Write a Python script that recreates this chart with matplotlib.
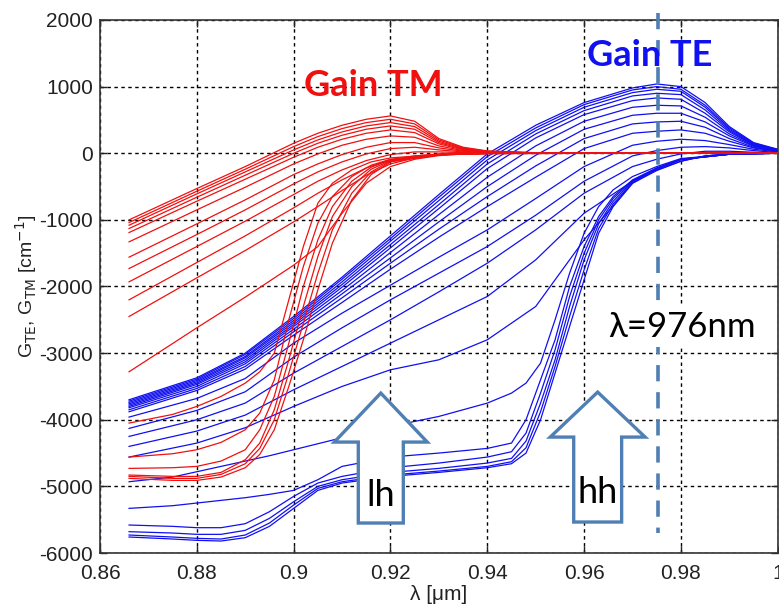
import matplotlib
matplotlib.use("Agg")
import matplotlib.pyplot as plt
from matplotlib.patches import Polygon

plt.rcParams['font.family'] = ['Liberation Sans', 'DejaVu Sans']

# ---- TE gain, high carrier densities (no step) ----
xa = [0.866, 0.88, 0.89, 0.90, 0.91, 0.92, 0.93, 0.94, 0.95, 0.96, 0.97, 0.975, 0.98, 0.985, 0.99, 0.995, 1.0]
te_high = [
    [-3700, -3370, -3000, -2450, -1860, -1240, -620, -10, 420, 760, 980, 1040, 1000, 760, 400, 160, 60],
    [-3720, -3390, -3020, -2480, -1890, -1280, -660, -50, 380, 730, 950, 1000, 960, 720, 380, 150, 55],
    [-3740, -3410, -3050, -2510, -1930, -1320, -710, -100, 340, 690, 910, 960, 930, 690, 360, 140, 50],
    [-3760, -3430, -3070, -2540, -1970, -1370, -770, -160, 290, 640, 860, 900, 880, 650, 340, 130, 50],
    [-3780, -3450, -3100, -2570, -2010, -1420, -830, -230, 230, 580, 790, 830, 810, 600, 320, 125, 45],
    [-3800, -3470, -3130, -2600, -2060, -1490, -920, -360, 110, 480, 690, 720, 710, 540, 290, 115, 40],
    [-3820, -3500, -3160, -2640, -2110, -1570, -1030, -500, -30, 360, 570, 600, 600, 470, 260, 105, 35],
    [-3850, -3530, -3200, -2680, -2170, -1650, -1140, -650, -190, 220, 440, 470, 480, 390, 220, 90, 30],
    [-3880, -3560, -3240, -2730, -2240, -1740, -1260, -800, -360, 70, 300, 330, 350, 300, 180, 80, 25],
    [-3960, -3680, -3380, -2850, -2400, -1980, -1560, -1150, -680, -200, 120, 180, 210, 190, 130, 60, 20],
    [-4130, -3860, -3580, -3060, -2620, -2200, -1800, -1400, -930, -420, -40, 40, 90, 100, 80, 40, 10],
    [-4250, -4000, -3750, -3300, -2900, -2500, -2080, -1650, -1150, -600, -200, -90, -10, 30, 30, 15, 5],
    [-4400, -4170, -3930, -3550, -3200, -2850, -2500, -2150, -1600, -900, -420, -250, -120, -40, -10, 0, 0],
    [-4560, -4350, -4120, -3800, -3500, -3250, -3100, -2800, -2300, -1300, -450, -260, -120, -40, -10, 0, 0],
]

# ---- TE gain, low carrier densities (lh and hh steps) ----
xb = [0.866, 0.875, 0.88, 0.885, 0.89, 0.895, 0.90, 0.905, 0.91, 0.92, 0.93, 0.94, 0.945,
      0.948, 0.951, 0.954, 0.957, 0.96, 0.963, 0.966, 0.97, 0.975, 0.98, 0.99, 1.0]
te_low = [
    [-4930, -4860, -4780, -4700, -4620, -4540, -4450, -4360, -4270, -4100, -3950, -3750, -3600,
     -3450, -3150, -2500, -1800, -1200, -800, -550, -350, -200, -80, -15, 0],
    [-5330, -5290, -5250, -5210, -5170, -5120, -5060, -4900, -4700, -4560, -4500, -4430, -4350,
     -4000, -3400, -2800, -2000, -1400, -950, -650, -400, -220, -90, -15, 0],
    [-5580, -5600, -5620, -5620, -5560, -5380, -5150, -4950, -4850, -4720, -4650, -4560, -4480,
     -4200, -3600, -2950, -2150, -1500, -1000, -680, -410, -225, -90, -15, 0],
    [-5680, -5700, -5720, -5720, -5660, -5480, -5230, -5000, -4900, -4790, -4730, -4650, -4580,
     -4320, -3750, -3100, -2300, -1600, -1060, -720, -425, -230, -92, -15, 0],
    [-5730, -5760, -5780, -5790, -5730, -5550, -5280, -5030, -4930, -4830, -4770, -4700, -4630,
     -4420, -3880, -3200, -2450, -1750, -1130, -760, -440, -235, -95, -15, 0],
    [-5760, -5790, -5810, -5820, -5770, -5600, -5330, -5060, -4950, -4850, -4790, -4720, -4660,
     -4500, -4000, -3300, -2600, -1900, -1200, -800, -450, -240, -95, -15, 0],
]

# ---- TM gain, high carrier densities ----
xm = [0.866, 0.88, 0.89, 0.90, 0.905, 0.91, 0.915, 0.92, 0.925, 0.93, 0.935, 0.94, 0.95, 0.96, 1.0]
tm_high = [
    [-1000, -530, -200, 150, 300, 420, 510, 560, 480, 220, 90, 35, 8, 2, 0],
    [-1040, -570, -240, 100, 250, 370, 460, 510, 440, 200, 80, 30, 6, 2, 0],
    [-1080, -610, -280, 50, 200, 320, 410, 460, 400, 180, 70, 25, 5, 1, 0],
    [-1130, -660, -330, 0, 150, 270, 360, 410, 360, 160, 60, 20, 5, 1, 0],
    [-1190, -720, -390, -60, 90, 210, 300, 350, 310, 140, 50, 18, 4, 1, 0],
    [-1330, -850, -510, -160, -10, 120, 210, 260, 240, 110, 40, 15, 3, 1, 0],
    [-1560, -1060, -700, -320, -160, -20, 90, 160, 160, 80, 30, 10, 2, 0, 0],
    [-1730, -1220, -850, -460, -280, -130, -10, 70, 90, 50, 20, 8, 2, 0, 0],
    [-1930, -1400, -1020, -620, -420, -250, -110, -20, 20, 20, 10, 5, 1, 0, 0],
    [-2200, -1640, -1240, -820, -600, -400, -220, -100, -40, -10, 0, 2, 1, 0, 0],
    [-2450, -1870, -1460, -1030, -800, -560, -330, -160, -70, -25, -8, -2, 0, 0, 0],
    [-3280, -2620, -2160, -1680, -1400, -900, -450, -200, -90, -35, -12, -4, 0, 0, 0],
]

# ---- TM gain, low carrier densities (step near 0.9 um) ----
xs = [0.866, 0.875, 0.88, 0.885, 0.89, 0.893, 0.896, 0.899, 0.902, 0.905, 0.908, 0.912,
      0.916, 0.92, 0.93, 0.94, 1.0]
tm_low = [
    [-4050, -3920, -3800, -3650, -3450, -3280, -3000, -2200, -1400, -750, -450, -250, -130, -70, -15, -3, 0],
    [-4560, -4510, -4450, -4340, -4150, -3900, -3400, -2500, -1700, -1050, -650, -350, -180, -90, -18, -3, 0],
    [-4730, -4720, -4700, -4620, -4450, -4150, -3650, -2850, -2000, -1300, -800, -420, -210, -100, -20, -3, 0],
    [-4830, -4850, -4850, -4790, -4600, -4350, -3850, -3100, -2300, -1550, -950, -500, -240, -110, -20, -3, 0],
    [-4850, -4880, -4880, -4820, -4660, -4430, -4000, -3300, -2550, -1800, -1150, -600, -280, -120, -22, -3, 0],
    [-4880, -4910, -4910, -4860, -4720, -4520, -4150, -3500, -2800, -2050, -1350, -700, -320, -130, -25, -3, 0],
]

x_ticks = [0.86, 0.88, 0.9, 0.92, 0.94, 0.96, 0.98, 1.0]
y_ticks = [-6000, -5000, -4000, -3000, -2000, -1000, 0, 1000, 2000]
lambda_mark = 0.9752

TE_COLOR = '#1010f0'
TM_COLOR = '#f01010'
ARROW_COLOR = '#4f7fb3'
CALIBRI_LIKE = ['Lato', 'DejaVu Sans']

fig = plt.figure(figsize=(7.79, 6.15), dpi=100)
ax = fig.add_axes([0.1284, 0.1008, 0.870, 0.8667])

for ys in te_high:
    ax.plot(xa, ys, color=TE_COLOR, lw=0.9, zorder=3)
for ys in te_low:
    ax.plot(xb, ys, color=TE_COLOR, lw=0.9, zorder=3)
for ys in tm_high:
    ax.plot(xm, ys, color=TM_COLOR, lw=0.9, zorder=4)
for ys in tm_low:
    ax.plot(xs, ys, color=TM_COLOR, lw=0.9, zorder=4)

ax.set_xlim(0.86, 1.0)
ax.set_ylim(-6000, 2000)
ax.set_xticks(x_ticks)
ax.set_xticklabels(['{:g}'.format(v) for v in x_ticks])
ax.set_yticks(y_ticks)
ax.set_yticklabels([str(v) for v in y_ticks])
ax.tick_params(axis='both', direction='in', length=5, width=1, top=True, right=True,
               labelsize=15, colors='#222222')
ax.tick_params(axis='y', pad=5)
ax.tick_params(axis='x', pad=8)
for s in ax.spines.values():
    s.set_color('#333333')
    s.set_linewidth(1.2)
ax.grid(True, color='black', linestyle=(0, (2.5, 2.5)), linewidth=1.0, zorder=1)
ax.set_axisbelow(True)

ax.set_xlabel('λ [μm]', fontsize=15, color='#222222', labelpad=1)
ax.set_ylabel('G$_{\\rm TE}$, G$_{\\rm TM}$ [cm$^{-1}$]', fontsize=14, color='#222222', labelpad=0)

# marker line at the pump wavelength
ax.plot([lambda_mark, lambda_mark], [2100, -5700], color=ARROW_COLOR, lw=2.6,
        dashes=[4.5, 3], clip_on=False, zorder=5)
ax.text(0.9802, -2610, 'λ=976nm', fontsize=25, family=CALIBRI_LIKE,
        ha='center', va='center', zorder=7,
        bbox=dict(boxstyle='square,pad=0.12', fc='white', ec='none'))


def block_arrow(xc, y_tip, y_head, y_base, head_w, shaft_w, label):
    pts = [(xc, y_tip), (xc + head_w / 2, y_head), (xc + shaft_w / 2, y_head),
           (xc + shaft_w / 2, y_base), (xc - shaft_w / 2, y_base),
           (xc - shaft_w / 2, y_head), (xc - head_w / 2, y_head)]
    ax.add_patch(Polygon(pts, closed=True, fc='white', ec=ARROW_COLOR, lw=2.4, zorder=6))
    ax.text(xc, (y_head + y_base) / 2 - 200, label, fontsize=26, family=CALIBRI_LIKE,
            ha='center', va='center', zorder=7)


block_arrow(0.9180, -3600, -4335, -5550, 0.0192, 0.0093, 'lh')
block_arrow(0.9628, -3585, -4260, -5535, 0.0196, 0.0099, 'hh')

ax.text(0.9165, 1020, 'Gain TM', fontsize=26, fontweight='bold', color=TM_COLOR,
        family=CALIBRI_LIKE, ha='center', va='center', zorder=7)
ax.text(0.9736, 1470, 'Gain TE', fontsize=26, fontweight='bold', color=TE_COLOR,
        family=CALIBRI_LIKE, ha='center', va='center', zorder=7)

fig.savefig('out.png', dpi=100)
